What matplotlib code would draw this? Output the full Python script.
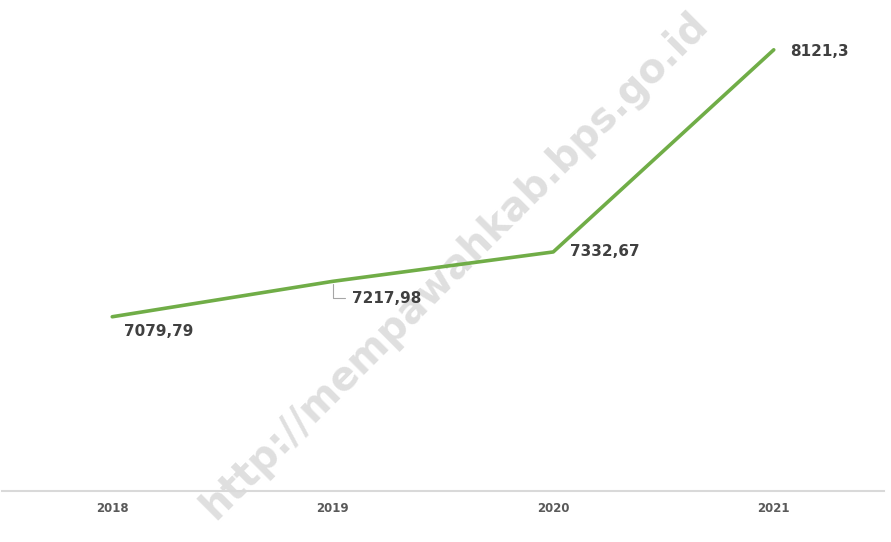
import matplotlib.pyplot as plt

# Data
tahun = ["2018", "2019", "2020", "2021"]
nilai = [7079.79, 7217.98, 7332.67, 8121.3]
label_nilai = ["7079,79", "7217,98", "7332,67", "8121,3"]

fig = plt.figure(figsize=(8.91, 5.42), dpi=100)
ax = fig.add_axes([2 / 891, 51 / 542, 882 / 891, 487 / 542])

x = list(range(len(tahun)))
ax.plot(x, nilai, color="#70ad47", linewidth=2.6, solid_capstyle="round", zorder=3)

ax.set_xlim(-0.5, 3.5)
ax.set_ylim(6400, 8300)

# Label data (offset dalam points)
warna_teks = "#404040"
offsets = [(8.6, -10.8), (13.7, -12.2), (12.2, 0), (11.5, -1.4)]
for i, (xv, yv, lab) in enumerate(zip(x, nilai, label_nilai)):
    if i == 1:
        ax.annotate(lab, (xv, yv), xytext=offsets[i], textcoords="offset points",
                    fontsize=11, fontweight="bold", color=warna_teks, va="center", zorder=5,
                    arrowprops=dict(arrowstyle="-", color="#a6a6a6", lw=0.8,
                                    shrinkA=3, shrinkB=2,
                                    connectionstyle="angle,angleA=0,angleB=90,rad=0"))
    else:
        ax.annotate(lab, (xv, yv), xytext=offsets[i], textcoords="offset points",
                    fontsize=11, fontweight="bold", color=warna_teks, va="center", zorder=5)

# Axes styling
for s in ["top", "right", "left"]:
    ax.spines[s].set_visible(False)
ax.spines["bottom"].set_color("#d9d9d9")
ax.spines["bottom"].set_linewidth(1.5)
ax.set_yticks([])
ax.set_xticks(x)
ax.set_xticklabels(tahun, fontsize=8.5, fontweight="bold", color="#595959")
ax.tick_params(axis="x", length=0, pad=8)

# Watermark (di bawah garis dan label)
ax.text(0.511, 0.511, "http://mempawahkab.bps.go.id", transform=fig.transFigure,
        fontsize=28.5, fontweight="bold", color="#dcdcdc", alpha=0.9, rotation=45,
        ha="center", va="center", rotation_mode="anchor", zorder=1, clip_on=False)

fig.savefig("out.png", dpi=100)
